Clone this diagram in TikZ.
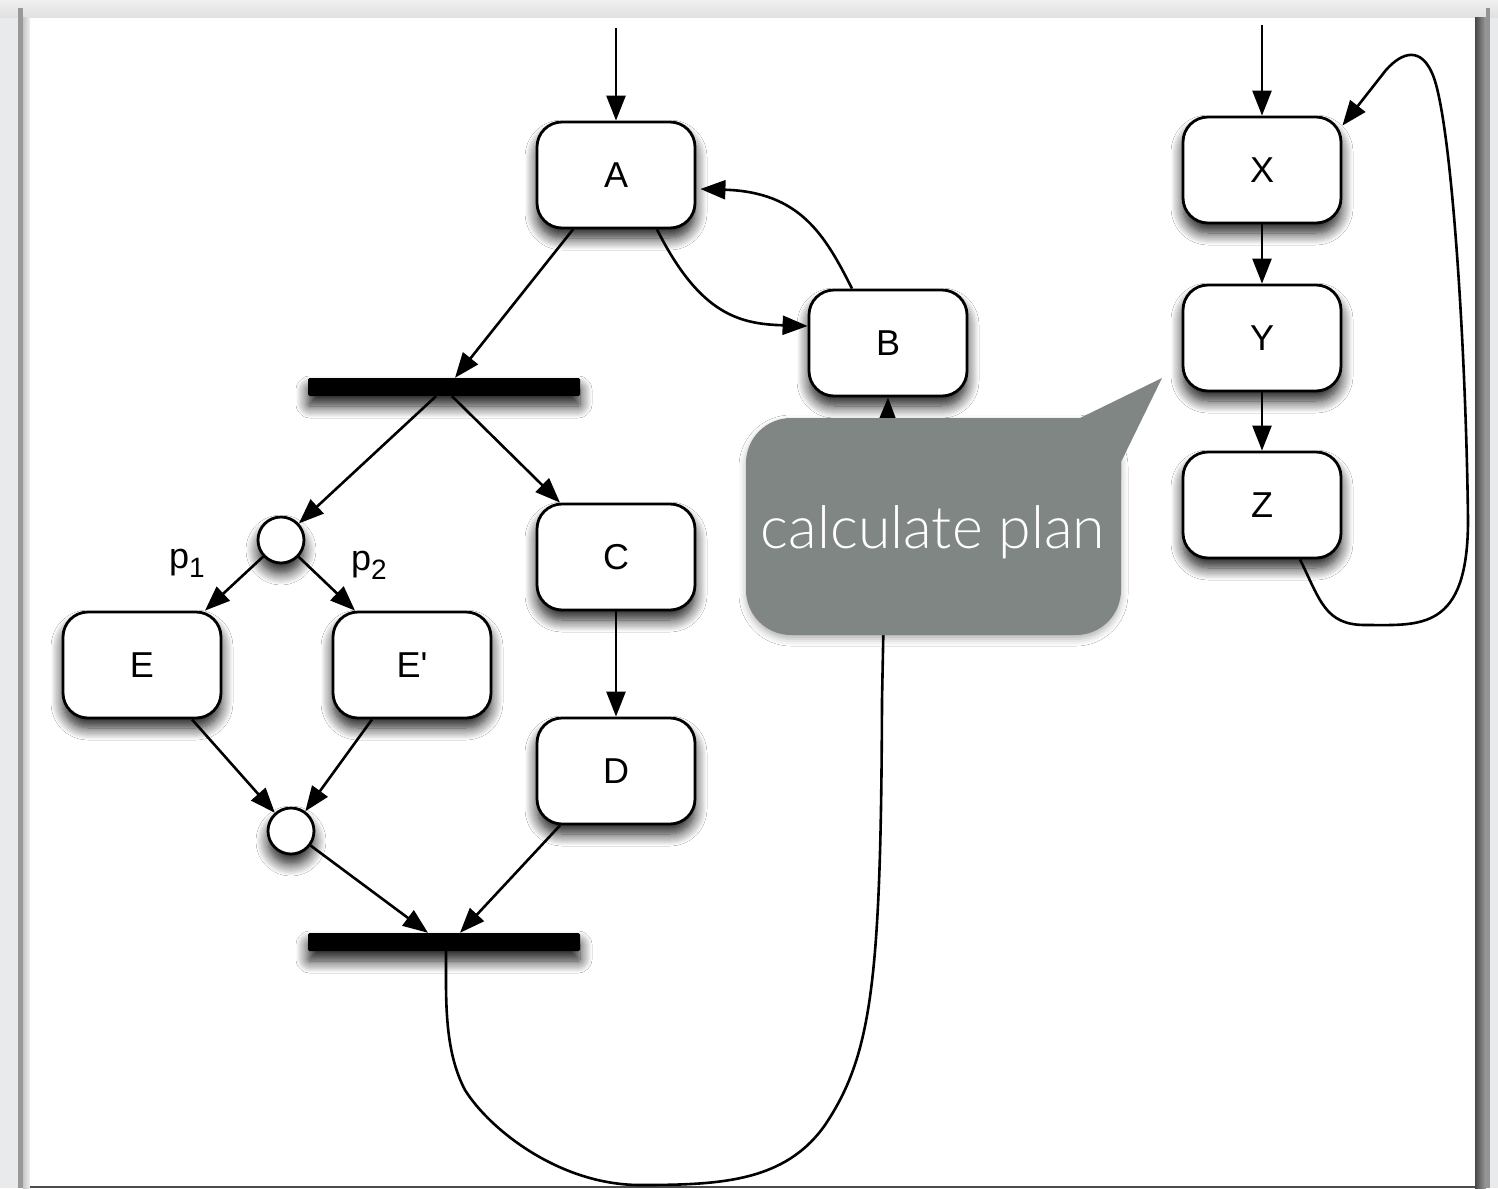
\documentclass[tikz,border=0pt]{standalone}
\usepackage{fontspec}
\setmainfont{Liberation Sans}[Ligatures=TeXOff]
\newfontfamily\calloutfont{Lato}[UprightFont=* Light]
\usetikzlibrary{arrows.meta,calc,shadows.blur}

\definecolor{deskgray}{RGB}{232,234,236}
\definecolor{calloutgray}{RGB}{128,134,131}

\begin{document}
\begin{tikzpicture}[x=1pt,y=-1pt,
  softshadow/.style={blur shadow={shadow xshift=0pt, shadow yshift=-10pt,
      shadow blur radius=12pt, shadow blur steps=12, shadow opacity=90}},
  box/.style={draw, line width=2.8pt, fill=white, rounded corners=25pt,
      minimum width=158pt, minimum height=106pt, inner sep=0pt,
      font=\fontsize{36}{40}\selectfont, softshadow},
  syncbar/.style={fill=black, minimum width=272pt, minimum height=18pt,
      inner sep=0pt, rounded corners=1.5pt, softshadow},
  junction/.style={circle, draw, line width=2.8pt, fill=white,
      minimum size=46pt, inner sep=0pt, softshadow},
  flow/.style={line width=2.6pt, -{Triangle[length=25pt,width=19pt]}},
  guard/.style={font=\fontsize{36}{40}\selectfont, inner sep=0pt},
]
\useasboundingbox (0,0) rectangle (1498,1188);

% page on the desk
\fill[deskgray] (0,0) rectangle (1498,1188);
\shade[top color=black!6, bottom color=black!12] (0,0) rectangle (1498,18);
\fill[black!40] (18,8) rectangle (23,1188);
\shade[left color=black!22, right color=black!6] (23,18) rectangle (30,1188);
\fill[white] (30,18) rectangle (1475,1186);
\shade[left color=black!72, right color=black!38] (1475,18) rectangle (1486,1188);
\fill[black!42] (1486,8) rectangle (1490,1188);
\fill[black!70] (30,1186) rectangle (1475,1188);

% activities
\node[box] (A)  at (616,175) {A};
\node[box] (B)  at (888,343) {B};
\node[box] (C)  at (616,557) {C};
\node[box] (D)  at (616,771) {D};
\node[box] (E)  at (142,665) {E};
\node[box] (E2) at (412,665) {E'};
\node[box] (X)  at (1262,170) {X};
\node[box] (Y)  at (1262,338) {Y};
\node[box] (Z)  at (1262,505) {Z};

% fork / join bars and decision points
\node[syncbar] (fork) at (444,387) {};
\node[syncbar] (join) at (444,942) {};
\node[junction] (dec)  at (281,540) {};
\node[junction] (merge) at (291,831) {};

% entry points
\coordinate (inA) at (616,28);
\coordinate (inX) at (1262,25);

% left flow
\draw[flow] (inA) -- (A.north);
\draw[flow] ($(A.south)+(-43,0)$) -- ($(fork.north)+(11,0)$);
\draw[flow] ($(A.south)+(41,0)$) .. controls (700,315) and (740,324) .. ($(B.west)+(0,-17)$);
\draw[flow] ($(B.north)+(-36,0)$) .. controls (825,235) and (800,192) .. ($(A.east)+(4,14)$);
\draw[flow] ($(fork.south)+(-8,0)$) -- (dec);
\draw[flow] ($(fork.south)+(8,0)$) -- ($(C.north)+(-56,0)$);
\draw[flow] (dec) -- ($(E.north)+(63,0)$);
\draw[flow] (dec) -- ($(E2.north)+(-57,0)$);
\draw[flow] ($(E.south)+(50,0)$) -- (merge);
\draw[flow] ($(E2.south)+(-40,0)$) -- (merge);
\draw[flow] (C) -- (D);
\draw[flow] (merge) -- ($(join.north)+(-16,0)$);
\draw[flow] ($(D.south)+(-56,0)$) -- ($(join.north)+(16,0)$);

% guards
\node[guard] (p1) at (187,563) {p\raisebox{-9pt}{\fontsize{28}{30}\selectfont 1}};
\node[guard] (p2) at (369,565) {p\raisebox{-9pt}{\fontsize{28}{30}\selectfont 2}};

% loop from the join back to B
\draw[flow] ($(join.south)+(2,0)$) .. controls (446,1000) and (444,1050) .. (465,1090)
  .. controls (490,1130) and (560,1185) .. (640,1185)
  .. controls (720,1185) and (785,1182) .. (825,1125)
  .. controls (872,1055) and (881,980) .. (882,700)
  -- (B.south);

% right flow
\draw[flow] (inX) -- (X.north);
\draw[flow] (X) -- (Y);
\draw[flow] (Y) -- (Z);
\draw[flow] ($(Z.south)+(38,0)$) .. controls (1320,600) and (1325,625) .. (1365,625)
  .. controls (1420,625) and (1468,632) .. (1468,520)
  .. controls (1466,350) and (1452,130) .. (1434,78)
  .. controls (1422,45) and (1402,52) .. (1386,70)
  -- ($(X.north east)+(0,10)$);

% speech bubble
\fill[calloutgray, blur shadow={shadow xshift=0pt, shadow yshift=-4pt,
    shadow blur radius=7pt, shadow opacity=30}, rounded corners=45pt]
  (746,418) rectangle (1121,635);
\fill[calloutgray] (1050,418) -- (1080,418) -- (1162,378) -- (1121,462)
  -- (1121,480) -- (1050,480) -- cycle;
\node[text=white, font=\calloutfont\fontsize{59}{62}\selectfont, inner sep=0pt]
  (plan) at (933,532) {calculate plan};
\end{tikzpicture}
\end{document}
